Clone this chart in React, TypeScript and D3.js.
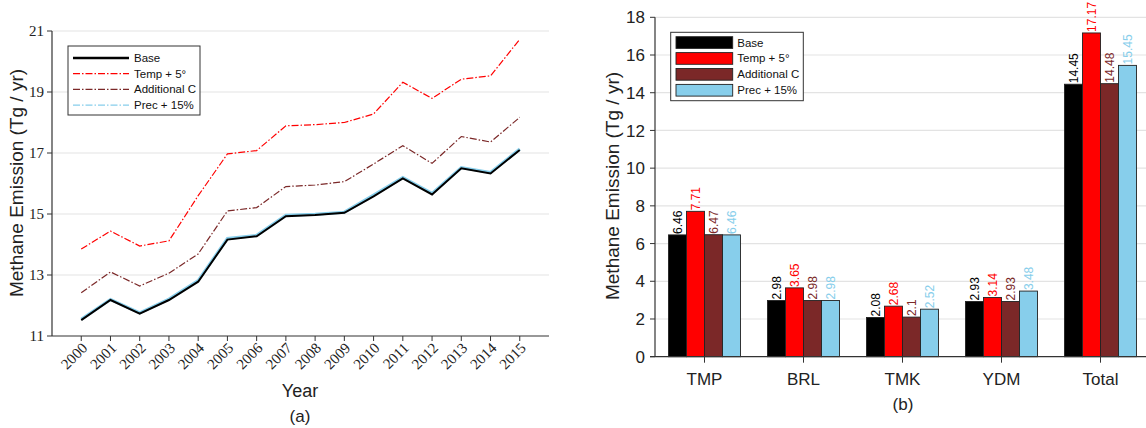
import React from "react";
import * as d3 from "d3";

const years = [2000, 2001, 2002, 2003, 2004, 2005, 2006, 2007, 2008, 2009, 2010, 2011, 2012, 2013, 2014, 2015];
const baseSeries = [11.52, 12.18, 11.73, 12.18, 12.78, 14.16, 14.27, 14.93, 14.97, 15.04, 15.58, 16.17, 15.64, 16.5, 16.33, 17.1];
const tempSeries = [13.85, 14.44, 13.95, 14.12, 15.6, 16.97, 17.08, 17.89, 17.93, 18.0, 18.28, 19.32, 18.79, 19.42, 19.53, 20.73];
const addCSeries = [12.42, 13.1, 12.64, 13.06, 13.69, 15.1, 15.21, 15.9, 15.95, 16.06, 16.64, 17.24, 16.66, 17.54, 17.36, 18.17];
const precSeries = [11.55, 12.2, 11.76, 12.21, 12.82, 14.2, 14.3, 14.96, 14.99, 15.06, 15.62, 16.2, 15.68, 16.52, 16.36, 17.13];
const lineYTicks = [11, 13, 15, 17, 19, 21];

const seriesNames = ["Base", "Temp + 5°", "Additional C", "Prec + 15%"];
const seriesColors = ["#000000", "#ff0000", "#7b2828", "#87ceeb"];

const regions = ["TMP", "BRL", "TMK", "YDM", "Total"];
const barBase = [6.46, 2.98, 2.08, 2.93, 14.45];
const barTemp = [7.71, 3.65, 2.68, 3.14, 17.17];
const barAddC = [6.47, 2.98, 2.1, 2.93, 14.48];
const barPrec = [6.46, 2.98, 2.52, 3.48, 15.45];
const barYTicks = [0, 2, 4, 6, 8, 10, 12, 14, 16, 18];

const SANS = "'Liberation Sans', Arial, sans-serif";
const SERIF = "'Liberation Serif', 'Times New Roman', serif";

function LineChart() {
  const x = d3.scaleLinear().domain([1999, 2016]).range([52, 549]);
  const y = d3.scaleLinear().domain([11, 21]).range([336, 31]);
  const line = d3
    .line<number>()
    .x((_, i) => x(years[i]))
    .y((d) => y(d));
  const series = [
    { vals: precSeries, color: seriesColors[3], w: 3, dash: "" },
    { vals: baseSeries, color: seriesColors[0], w: 2, dash: "" },
    { vals: tempSeries, color: seriesColors[1], w: 1.2, dash: "7,2,1.5,2" },
    { vals: addCSeries, color: seriesColors[2], w: 1.2, dash: "7,2,1.5,2" },
  ];
  const legendStyles = [
    { w: 2.5, dash: "" },
    { w: 1.2, dash: "7,2,1.5,2" },
    { w: 1.2, dash: "7,2,1.5,2" },
    { w: 1.2, dash: "7,2,1.5,2" },
  ];
  return (
    <g>
      {lineYTicks.map((t) => (
        <g key={t}>
          {t !== 11 && <line x1={52} x2={549} y1={y(t)} y2={y(t)} stroke="#e3e3e3" strokeWidth={1.2} />}
          <line x1={47} x2={52} y1={y(t)} y2={y(t)} stroke="#333" />
          <text x={44} y={y(t)} dy="0.35em" textAnchor="end" fontFamily={SERIF} fontSize={15} fill="#222">
            {t}
          </text>
        </g>
      ))}
      <line x1={52} x2={52} y1={y(21)} y2={336} stroke="#333" strokeWidth={1.2} />
      <line x1={52} x2={549} y1={336} y2={336} stroke="#333" strokeWidth={1.2} />
      {years.map((yr) => (
        <g key={yr}>
          <line x1={x(yr)} x2={x(yr)} y1={336} y2={341} stroke="#333" />
          <text
            transform={`translate(${x(yr) + 7},${349}) rotate(-45)`}
            textAnchor="end"
            fontFamily={SERIF}
            fontSize={15}
            fill="#222"
          >
            {yr}
          </text>
        </g>
      ))}
      {series.map((s, i) => (
        <path key={i} d={line(s.vals) || ""} fill="none" stroke={s.color} strokeWidth={s.w} strokeDasharray={s.dash} />
      ))}
      <text transform="translate(23,183) rotate(-90)" textAnchor="middle" fontFamily={SANS} fontSize={19} fill="#222">
        Methane Emission (Tg / yr)
      </text>
      <text x={300} y={397} textAnchor="middle" fontFamily={SANS} fontSize={18} fill="#222">
        Year
      </text>
      <text x={300} y={422} textAnchor="middle" fontFamily={SANS} fontSize={17} fill="#222">
        (a)
      </text>
      <g>
        <rect x={68} y={46} width={132} height={69} fill="#fff" stroke="#333" strokeWidth={1} />
        {seriesNames.map((n, i) => (
          <g key={n}>
            <line
              x1={73}
              x2={129}
              y1={58 + i * 15.7}
              y2={58 + i * 15.7}
              stroke={seriesColors[i]}
              strokeWidth={legendStyles[i].w}
              strokeDasharray={legendStyles[i].dash}
            />
            <text x={134} y={58 + i * 15.7} dy="0.35em" fontFamily={SANS} fontSize={11.5} fill="#111">
              {n}
            </text>
          </g>
        ))}
      </g>
    </g>
  );
}

function BarChart() {
  const x0 = d3.scaleBand().domain(regions).range([655, 1150]).paddingInner(0).paddingOuter(0);
  const y = d3.scaleLinear().domain([0, 18]).range([356.7, 17.3]);
  const all = [barBase, barTemp, barAddC, barPrec];
  const bw = 18;
  const center = (r: string) => (x0(r) || 0) + x0.bandwidth() / 2;
  return (
    <g>
      {barYTicks.map((t) => (
        <g key={t}>
          {t !== 0 && <line x1={655} x2={1146} y1={y(t)} y2={y(t)} stroke="#e3e3e3" strokeWidth={1.2} />}
          <line x1={650} x2={655} y1={y(t)} y2={y(t)} stroke="#333" />
          <text x={645} y={y(t)} dy="0.36em" textAnchor="end" fontFamily={SANS} fontSize={17} fill="#222">
            {t}
          </text>
        </g>
      ))}
      <line x1={655} x2={655} y1={y(18)} y2={y(0)} stroke="#333" strokeWidth={1.2} />
      {regions.map((r, ri) =>
        all.map((vals, si) => {
          const bx = center(r) - 2 * bw + si * bw;
          return (
            <g key={`${ri}-${si}`}>
              <rect
                x={bx}
                y={y(vals[ri])}
                width={bw}
                height={y(0) - y(vals[ri])}
                fill={seriesColors[si]}
                stroke="#222"
                strokeWidth={0.9}
              />
              <text
                transform={`translate(${bx + bw / 2 + 4},${y(vals[ri]) - 1}) rotate(-90)`}
                fontFamily={SANS}
                fontSize={12}
                fill={seriesColors[si]}
              >
                {String(vals[ri])}
              </text>
            </g>
          );
        })
      )}
      <line x1={650} x2={1146} y1={y(0)} y2={y(0)} stroke="#333" strokeWidth={1.2} />
      {regions.map((r) => (
        <g key={r}>
          <line x1={center(r)} x2={center(r)} y1={y(0)} y2={y(0) + 6} stroke="#333" />
          <text x={center(r)} y={385} textAnchor="middle" fontFamily={SANS} fontSize={17} fill="#222">
            {r}
          </text>
        </g>
      ))}
      <text transform="translate(619,186) rotate(-90)" textAnchor="middle" fontFamily={SANS} fontSize={19} fill="#222">
        Methane Emission (Tg / yr)
      </text>
      <text x={903} y={410} textAnchor="middle" fontFamily={SANS} fontSize={17} fill="#222">
        (b)
      </text>
      <g>
        <rect x={670.7} y={32.3} width={132.6} height={68.4} fill="#fff" stroke="#333" strokeWidth={1} />
        {seriesNames.map((n, i) => (
          <g key={n}>
            <rect x={676} y={36.7 + i * 15.9} width={56.7} height={11.7} fill={seriesColors[i]} stroke="#222" strokeWidth={0.9} />
            <text x={737.3} y={42.5 + i * 15.9} dy="0.35em" fontFamily={SANS} fontSize={11.5} fill="#111">
              {n}
            </text>
          </g>
        ))}
      </g>
    </g>
  );
}

export default function App() {
  return (
    <svg
      width={1146}
      height={428}
      style={{ position: "absolute", left: 0, top: 0, background: "#fff" }}
    >
      <rect width={1146} height={428} fill="#fff" />
      <LineChart />
      <BarChart />
    </svg>
  );
}
